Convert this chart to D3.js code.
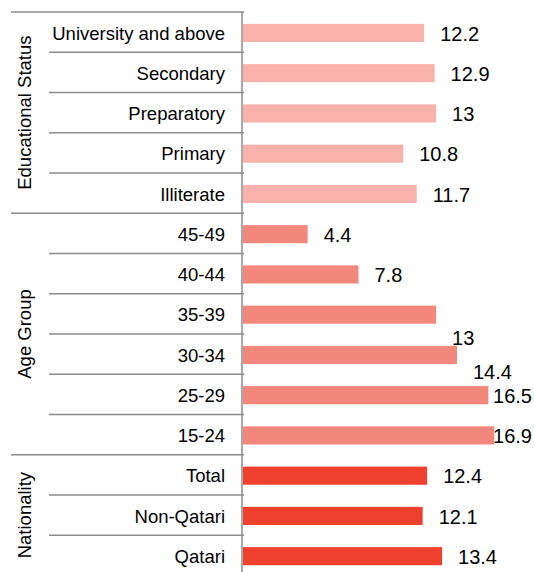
<!DOCTYPE html>
<html>
<head>
<meta charset="utf-8">
<script src="https://cdn.jsdelivr.net/npm/d3@7"></script>
<style>
  body { margin: 0; background: #fff; }
  text { font-family: "Liberation Sans", Arial, sans-serif; fill: #000; }
</style>
</head>
<body>
<script>
// data, top to bottom as in the chart
var eduCategories = ['University and above', 'Secondary', 'Preparatory', 'Primary', 'Illiterate'];
var eduValues = [12.2, 12.9, 13, 10.8, 11.7];

var ageCategories = ['45-49', '40-44', '35-39', '30-34', '25-29', '15-24'];
var ageValues = [4.4, 7.8, 13, 14.4, 16.5, 16.9];

var natCategories = ['Total', 'Non-Qatari', 'Qatari'];
var natValues = [12.4, 12.1, 13.4];

var groupNames = ['Educational Status', 'Age Group', 'Nationality'];
var groupColors = ['#f9b1ab', '#f4877b', '#ee402d'];

// label nudges (the original has two labels pushed down)
var labelNudge = { '35-39': 23, '30-34': 16 };

var width = 534,
	height = 572;

var svg = d3.select('body').append('svg')
	.attr('width', width)
	.attr('height', height);

// build the rows
var groups = [
	{ name: groupNames[0], cats: eduCategories, vals: eduValues, color: groupColors[0] },
	{ name: groupNames[1], cats: ageCategories, vals: ageValues, color: groupColors[1] },
	{ name: groupNames[2], cats: natCategories, vals: natValues, color: groupColors[2] }
];

var rows = [];
groups.forEach(function(g, gi) {
	g.cats.forEach(function(c, i) {
		rows.push({ cat: c, value: g.vals[i], color: g.color, group: gi, first: i === 0 });
	});
});

var axisX = 242,
	plotTop = 12,
	rowStep = 40.25;

var yScale = d3.scaleBand()
	.domain(rows.map(function(d) { return d.cat; }))
	.range([plotTop, plotTop + rows.length * rowStep])
	.padding(0);

var xScale = d3.scaleLinear()
	.domain([0, 20])
	.range([axisX, axisX + 20 * 14.93]);

var barH = yScale.bandwidth() * 0.45;
var lineColor = '#8c8c8c';

// row separators (group boundaries reach further left)
svg.selectAll('.sep')
	.data(rows)
	.enter().append('line')
	.attr('class', 'sep')
	.attr('x1', function(d) { return d.first ? 11 : 49; })
	.attr('x2', axisX + 2)
	.attr('y1', function(d) { return yScale(d.cat); })
	.attr('y2', function(d) { return yScale(d.cat); })
	.attr('stroke', lineColor)
	.attr('stroke-width', 1.5);

// vertical axis line
svg.append('line')
	.attr('x1', axisX).attr('x2', axisX)
	.attr('y1', plotTop).attr('y2', height)
	.attr('stroke', lineColor)
	.attr('stroke-width', 1.5);

// bars
svg.selectAll('.bar')
	.data(rows)
	.enter().append('rect')
	.attr('class', 'bar')
	.attr('x', xScale(0) + 1)
	.attr('y', function(d) { return yScale(d.cat) + yScale.bandwidth() / 2 - barH / 2 + 0.8; })
	.attr('width', function(d) { return xScale(d.value) - xScale(0) - 1; })
	.attr('height', barH)
	.attr('fill', function(d) { return d.color; });

// category labels
svg.selectAll('.cat-label')
	.data(rows)
	.enter().append('text')
	.attr('class', 'cat-label')
	.attr('x', axisX - 17)
	.attr('y', function(d) { return yScale(d.cat) + yScale.bandwidth() / 2 + 1; })
	.attr('text-anchor', 'end')
	.attr('dominant-baseline', 'central')
	.style('font-size', '18.5px')
	.text(function(d) { return d.cat; });

// value labels, kept inside the right edge
var rightEdge = 532;
svg.selectAll('.bar-label')
	.data(rows)
	.enter().append('text')
	.attr('class', 'bar-label')
	.attr('y', function(d) {
		return yScale(d.cat) + yScale.bandwidth() / 2 + 1.5 + (labelNudge[d.cat] || 0);
	})
	.attr('dominant-baseline', 'central')
	.style('font-size', '20px')
	.text(function(d) { return d.value; })
	.attr('x', function(d) {
		var w = this.getComputedTextLength();
		return Math.min(xScale(d.value) + 16, rightEdge - w);
	});

// group titles, rotated
groups.forEach(function(g) {
	var y0 = yScale(g.cats[0]),
		y1 = yScale(g.cats[g.cats.length - 1]) + yScale.bandwidth();
	var cy = (y0 + y1) / 2;
	svg.append('text')
		.attr('transform', 'translate(24,' + cy + ') rotate(-90)')
		.attr('text-anchor', 'middle')
		.attr('dominant-baseline', 'central')
		.style('font-size', '18.5px')
		.text(g.name);
});
</script>
</body>
</html>
